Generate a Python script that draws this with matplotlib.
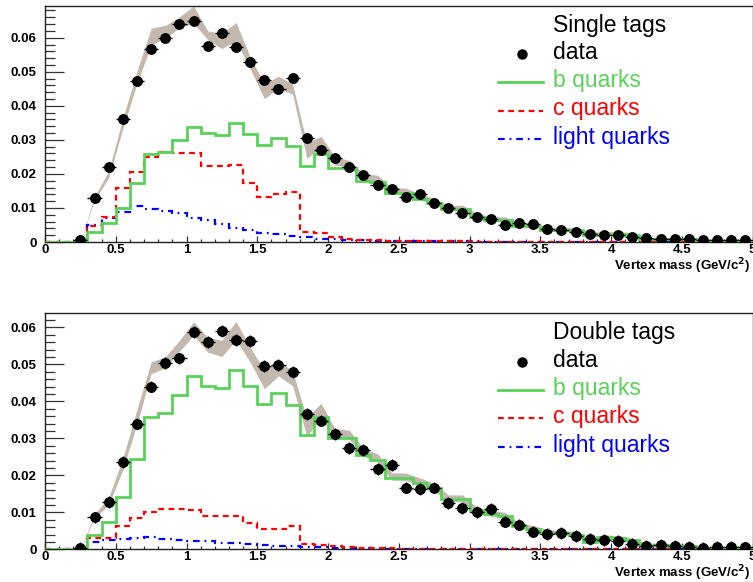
import numpy as np
import matplotlib
matplotlib.use("Agg")
import matplotlib.pyplot as plt
from matplotlib.ticker import MultipleLocator, FuncFormatter
from matplotlib.lines import Line2D

plt.rcParams['font.family'] = ['Liberation Sans', 'DejaVu Sans']

# bin edges 0..5 in steps of 0.1, data at bin centres from 0.25
edges = np.round(np.arange(0, 5.001, 0.1), 2)
centers = np.round(np.arange(0.25, 4.96, 0.1), 2)

# ---- single tags ----
single_data = [0.0005, 0.0128, 0.0221, 0.0360, 0.0473, 0.0567, 0.0600, 0.0639, 0.0650,
               0.0577, 0.0614, 0.0573, 0.0528, 0.0475, 0.0448, 0.0482, 0.0306, 0.0270, 0.0248,
               0.0221, 0.0196, 0.0166, 0.0155, 0.0133, 0.0140, 0.0115, 0.0099, 0.0084, 0.0072,
               0.0067, 0.0049, 0.0055, 0.0052, 0.0037, 0.0034, 0.0028, 0.0023, 0.0020, 0.0022,
               0.0016, 0.0013, 0.0009, 0.0008, 0.0008, 0.0006, 0.0007, 0.0006, 0.0006]
single_b = [0, 0, 0, 0.0030, 0.0055, 0.0101, 0.0174, 0.0258, 0.0263, 0.0300,
            0.0338, 0.0319, 0.0314, 0.0349, 0.0317, 0.0284, 0.0305, 0.0282, 0.0224, 0.0258,
            0.0216, 0.0216, 0.0180, 0.0177, 0.0143, 0.0143, 0.0126, 0.0114, 0.0096, 0.0096,
            0.0074, 0.0065, 0.0065, 0.0048, 0.0048, 0.0035, 0.0035, 0.0035, 0.0021, 0.0024,
            0.0024, 0.0022, 0.0008, 0.0008, 0.0008, 0.0008, 0.0002, 0.0002, 0.0002, 0.0002]
single_c = [0, 0, 0, 0.0048, 0.0074, 0.0158, 0.0205, 0.0249, 0.0263, 0.0261,
            0.0260, 0.0223, 0.0223, 0.0227, 0.0174, 0.0133, 0.0141, 0.0148, 0.0030, 0.0026,
            0.0014, 0.0008, 0.0006, 0.0005, 0.0004, 0.0003, 0.0003, 0.0002, 0.0002, 0.0002,
            0.0001, 0.0001, 0.0001, 0.0001, 0.0001, 0.0001, 0.0001, 0.0001, 0.0001, 0.0001,
            0.0001, 0.0001, 0.0001, 0.0001, 0.0001, 0.0001, 0.0001, 0.0001, 0.0001, 0.0001]
single_light = [0, 0, 0, 0.0050, 0.0070, 0.0089, 0.0105, 0.0096, 0.0092, 0.0084,
                0.0070, 0.0065, 0.0053, 0.0042, 0.0035, 0.0026, 0.0023, 0.0019, 0.0014, 0.0010,
                0.0008, 0.0006, 0.0005, 0.0004, 0.0004, 0.0003, 0.0003, 0.0003, 0.0002, 0.0002,
                0.0002, 0.0001, 0.0001, 0.0001, 0.0001, 0.0001, 0.0001, 0.0001, 0.0001, 0.0001,
                0.0001, 0.0001, 0.0001, 0.0001, 0.0001, 0.0001, 0.0001, 0.0001, 0.0001, 0.0001]
single_band = [0.0000, 0.0005, 0.0010, 0.0015, 0.0018, 0.0025, 0.0018, 0.0016, 0.0025,
               0.0013, 0.0022, 0.0027, 0.0017, 0.0022, 0.0018, 0.0015, 0.0022, 0.0016, 0.0012,
               0.0010, 0.0010, 0.0010, 0.0009, 0.0009, 0.0009, 0.0009, 0.0008, 0.0008, 0.0008,
               0.0007, 0.0007, 0.0007, 0.0006, 0.0006, 0.0006, 0.0005, 0.0005, 0.0005, 0.0004,
               0.0004, 0.0004, 0.0003, 0.0003, 0.0003, 0.0003, 0.0002, 0.0002, 0.0002]
single_err = 0.0010

# ---- double tags ----
double_data = [0.0003, 0.0086, 0.0129, 0.0237, 0.0340, 0.0440, 0.0503, 0.0516, 0.0587,
               0.0560, 0.0591, 0.0566, 0.0563, 0.0495, 0.0498, 0.0480, 0.0366, 0.0348, 0.0312,
               0.0273, 0.0268, 0.0218, 0.0227, 0.0167, 0.0162, 0.0167, 0.0126, 0.0111, 0.0101,
               0.0109, 0.0075, 0.0067, 0.0048, 0.0041, 0.0044, 0.0036, 0.0027, 0.0025, 0.0023,
               0.0014, 0.0010, 0.0011, 0.0010, 0.0007, 0.0003, 0.0007, 0.0006, 0.0005]
double_b = [0, 0, 0, 0.0040, 0.0075, 0.0142, 0.0243, 0.0358, 0.0368, 0.0417,
            0.0468, 0.0441, 0.0435, 0.0485, 0.0441, 0.0393, 0.0423, 0.0390, 0.0308, 0.0357,
            0.0301, 0.0301, 0.0255, 0.0242, 0.0192, 0.0192, 0.0180, 0.0165, 0.0136, 0.0136,
            0.0103, 0.0096, 0.0090, 0.0062, 0.0055, 0.0045, 0.0043, 0.0040, 0.0020, 0.0032,
            0.0030, 0.0025, 0.0011, 0.0011, 0.0010, 0.0009, 0.0003, 0.0003, 0.0003, 0.0003]
double_c = [0, 0, 0, 0.0030, 0.0030, 0.0062, 0.0085, 0.0101, 0.0109, 0.0108,
            0.0106, 0.0090, 0.0090, 0.0090, 0.0070, 0.0054, 0.0056, 0.0063, 0.0015, 0.0012,
            0.0009, 0.0006, 0.0004, 0.0003, 0.0003, 0.0002, 0.0002, 0.0002, 0.0001, 0.0001,
            0.0001, 0.0001, 0.0001, 0.0001, 0.0001, 0.0001, 0.0001, 0.0001, 0.0001, 0.0001,
            0.0001, 0.0001, 0.0001, 0.0001, 0.0001, 0.0001, 0.0001, 0.0001, 0.0001, 0.0001]
double_light = [0, 0, 0, 0.0020, 0.0025, 0.0027, 0.0030, 0.0032, 0.0028, 0.0025,
                0.0023, 0.0022, 0.0018, 0.0016, 0.0015, 0.0012, 0.0010, 0.0009, 0.0007, 0.0006,
                0.0004, 0.0003, 0.0003, 0.0002, 0.0002, 0.0002, 0.0001, 0.0001, 0.0001, 0.0001,
                0.0001, 0.0001, 0.0001, 0.0001, 0.0001, 0.0001, 0.0001, 0.0001, 0.0001, 0.0001,
                0.0001, 0.0001, 0.0001, 0.0001, 0.0001, 0.0001, 0.0001, 0.0001, 0.0001, 0.0001]
double_band = [0.0000, 0.0005, 0.0010, 0.0015, 0.0020, 0.0016, 0.0015, 0.0015, 0.0018,
               0.0020, 0.0022, 0.0025, 0.0020, 0.0025, 0.0020, 0.0020, 0.0025, 0.0020, 0.0012,
               0.0012, 0.0011, 0.0011, 0.0010, 0.0010, 0.0010, 0.0010, 0.0009, 0.0009, 0.0009,
               0.0008, 0.0008, 0.0008, 0.0007, 0.0007, 0.0006, 0.0006, 0.0005, 0.0005, 0.0005,
               0.0004, 0.0004, 0.0004, 0.0003, 0.0003, 0.0003, 0.0002, 0.0002, 0.0002]
double_err = 0.0016

W, H = 753, 582
GREEN = '#5ad25a'
BAND = '#c2b8ad'
RED_DASH = (0, (2.6, 2.0))
BLUE_DASHDOT = (0, (3.0, 2.2, 0.8, 2.2))

fig = plt.figure(figsize=(W / 100, H / 100), dpi=100)


def px(x, y):
    return x / W, 1 - y / H


def panel(top_px, bottom_px, ymax, data, b, c, light, band, err, title, label_dy):
    ax = fig.add_axes([45 / W, 1 - bottom_px / H, 707.5 / W, (bottom_px - top_px) / H])
    total = (np.array(b) + np.array(c) + np.array(light))[2:]
    hw = np.array(band)
    ax.fill_between(centers, total - hw, total + hw, color=BAND, lw=0, zorder=1)
    ax.stairs(light, edges, color='blue', lw=1.6, linestyle=BLUE_DASHDOT, zorder=2)
    ax.stairs(c, edges, color='red', lw=1.6, linestyle=RED_DASH, zorder=3)
    ax.stairs(b, edges, color=GREEN, lw=2.0, zorder=4)
    ax.errorbar(centers, data, xerr=0.05, yerr=err, fmt='o', color='black', ms=6.8,
                elinewidth=1.0, capsize=0, zorder=5)

    ax.set_xlim(0, 5)
    ax.set_ylim(0, ymax)
    ax.xaxis.set_major_locator(MultipleLocator(0.5))
    ax.xaxis.set_minor_locator(MultipleLocator(0.1))
    ax.yaxis.set_major_locator(MultipleLocator(0.01))
    ax.yaxis.set_minor_locator(MultipleLocator(0.002))
    fmt = FuncFormatter(lambda v, p: '%g' % round(v, 3))
    ax.xaxis.set_major_formatter(fmt)
    ax.yaxis.set_major_formatter(fmt)
    ax.tick_params(axis='y', which='major', direction='in', length=14, width=0.9,
                   pad=6, labelsize=9.5, color='#333333')
    ax.tick_params(axis='y', which='minor', direction='in', length=7, width=0.9,
                   color='#333333')
    ax.tick_params(axis='x', which='major', direction='in', length=4.5, width=0.9,
                   pad=1.5, labelsize=9.5, color='#333333')
    ax.tick_params(axis='x', which='minor', direction='in', length=2.3, width=0.9,
                   color='#333333')
    for lab in ax.get_xticklabels() + ax.get_yticklabels():
        lab.set_fontweight('bold')
    for s in ax.spines.values():
        s.set_linewidth(1.0)
        s.set_color('#222222')

    # legend drawn by hand
    fig.text(*px(553, top_px + 19.5), title, fontsize=16.5, va='center', ha='left')
    fig.add_artist(Line2D([521.7 / W], [1 - (top_px + 48.5) / H], marker='o',
                          color='black', ms=6.5, transform=fig.transFigure))
    fig.text(*px(553, top_px + 47), 'data', fontsize=16.5, va='center', ha='left')
    rows = [(76.7, GREEN, '-', 2.0, 'b quarks'),
            (104.8, 'red', RED_DASH, 1.6, 'c quarks'),
            (133.3, 'blue', BLUE_DASHDOT, 1.6, 'light quarks')]
    for dy, col, ls, lw, lab in rows:
        y = 1 - (top_px + dy) / H
        fig.add_artist(Line2D([498 / W, 543 / W], [y, y], color=col, ls=ls, lw=lw,
                              transform=fig.transFigure))
        fig.text(*px(553, top_px + dy - 1.5), lab, color=col, fontsize=16.5,
                 va='center', ha='left')

    fig.text(*px(750, bottom_px + label_dy), 'Vertex mass (GeV/c$^{\\mathbf{2}}$)',
             fontsize=9.5, fontweight='bold', ha='right', va='center')
    return ax


panel(5.7, 242, 0.0694, single_data, single_b, single_c, single_light,
      single_band, single_err, 'Single tags', 24.5)
panel(313.3, 549.3, 0.0638, double_data, double_b, double_c, double_light,
      double_band, double_err, 'Double tags', 23.8)

fig.savefig('out.png', dpi=100)
